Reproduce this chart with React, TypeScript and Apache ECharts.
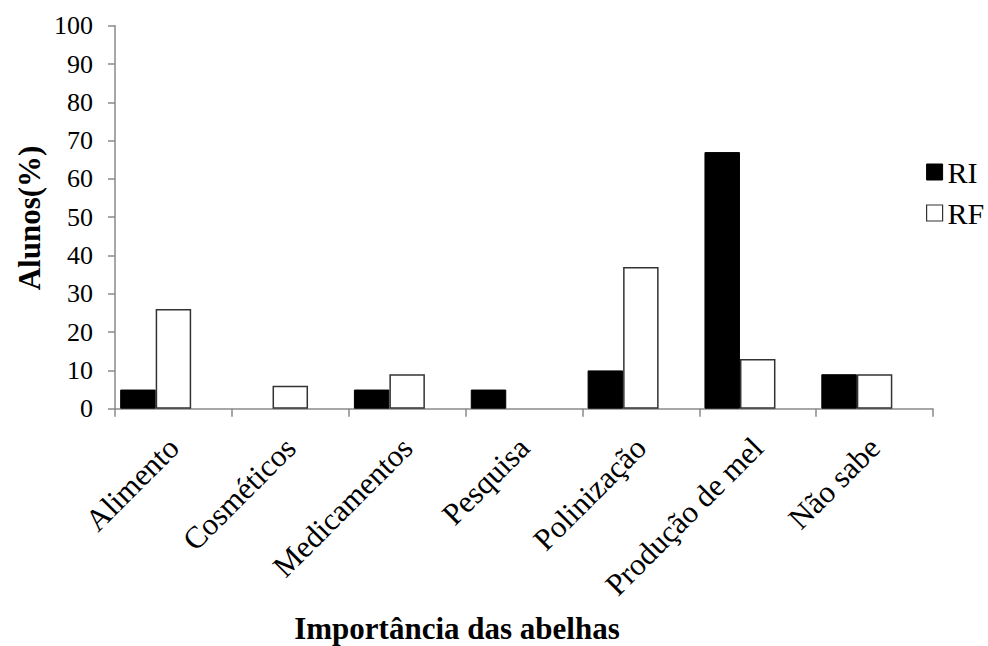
import React, { useEffect, useRef } from "react";
import * as echarts from "echarts";

const categories = ["Alimento", "Cosméticos", "Medicamentos", "Pesquisa", "Polinização", "Produção de mel", "Não sabe"];
const riValues = [5, 0, 5, 5, 10, 67, 9];
const rfValues = [26, 6, 9, 0, 37, 13, 9];
const emptyValues = [null, null, null, null, null, null, null];
const yTitle = "Alunos(%)";
const xTitle = "Importância das abelhas";

const FONT = "Liberation Serif";

// zero values are not drawn as a visible bar in the reference
const shown = (arr: number[]) => arr.map((v) => (v === 0 ? null : v));

export default function App() {
  const ref = useRef<HTMLDivElement>(null);
  useEffect(() => {
    document.body.style.margin = "0";
    const chart = echarts.init(ref.current!, null, { renderer: "svg" });
    const axisColor = "#8a8a8a";
    chart.setOption({
      animation: false,
      backgroundColor: "#ffffff",
      textStyle: { fontFamily: FONT },
      grid: { left: 115, right: 55, top: 25.7, bottom: 237.3, containLabel: false },
      legend: {
        orient: "vertical",
        left: 926,
        top: 157,
        padding: 0,
        itemWidth: 16,
        itemHeight: 16,
        itemGap: 11,
        icon: "rect",
        textStyle: { fontFamily: FONT, fontSize: 30, color: "#000" },
        data: [
          { name: "RI", itemStyle: { color: "#000", borderColor: "#000", borderWidth: 1 } },
          { name: "RF", itemStyle: { color: "#fff", borderColor: "#333", borderWidth: 1.2 } },
        ],
      },
      xAxis: {
        type: "category",
        data: categories,
        boundaryGap: true,
        axisLine: { show: true, lineStyle: { color: axisColor, width: 1.5 } },
        axisTick: { show: true, length: 8, lineStyle: { color: axisColor, width: 1.5 } },
        axisLabel: {
          interval: 0,
          rotate: 45,
          margin: 34,
          fontFamily: FONT,
          fontSize: 31,
          color: "#000",
        },
        splitLine: { show: false },
      },
      yAxis: {
        type: "value",
        min: 0,
        max: 100,
        interval: 10,
        axisLine: { show: true, lineStyle: { color: axisColor, width: 1.5 } },
        axisTick: { show: true, length: 7, lineStyle: { color: axisColor, width: 1.5 } },
        axisLabel: { margin: 22, fontFamily: FONT, fontSize: 26, color: "#000" },
        splitLine: { show: false },
      },
      series: [
        {
          name: "RI",
          type: "bar",
          data: shown(riValues),
          barWidth: 35.5,
          barGap: "0%",
          itemStyle: { color: "#000", borderColor: "#000", borderWidth: 1 },
        },
        {
          name: "RF",
          type: "bar",
          data: shown(rfValues),
          barWidth: 35.5,
          barGap: "0%",
          itemStyle: { color: "#fff", borderColor: "#333", borderWidth: 1.5 },
        },
        {
          name: "empty",
          type: "bar",
          data: emptyValues,
          barWidth: 35.5,
          barGap: "0%",
          itemStyle: { color: "transparent" },
        },
      ],
      graphic: [
        {
          type: "text",
          x: 29,
          y: 218,
          rotation: Math.PI / 2,
          style: {
            text: yTitle,
            fontFamily: FONT,
            fontSize: 31,
            fontWeight: "bold",
            fill: "#000",
            textAlign: "center",
            textVerticalAlign: "middle",
          },
        },
        {
          type: "text",
          x: 457,
          y: 628,
          style: {
            text: xTitle,
            fontFamily: FONT,
            fontSize: 31,
            fontWeight: "bold",
            fill: "#000",
            textAlign: "center",
            textVerticalAlign: "middle",
          },
        },
      ],
    });
    return () => chart.dispose();
  }, []);
  return <div ref={ref} style={{ width: 988, height: 646 }} />;
}
